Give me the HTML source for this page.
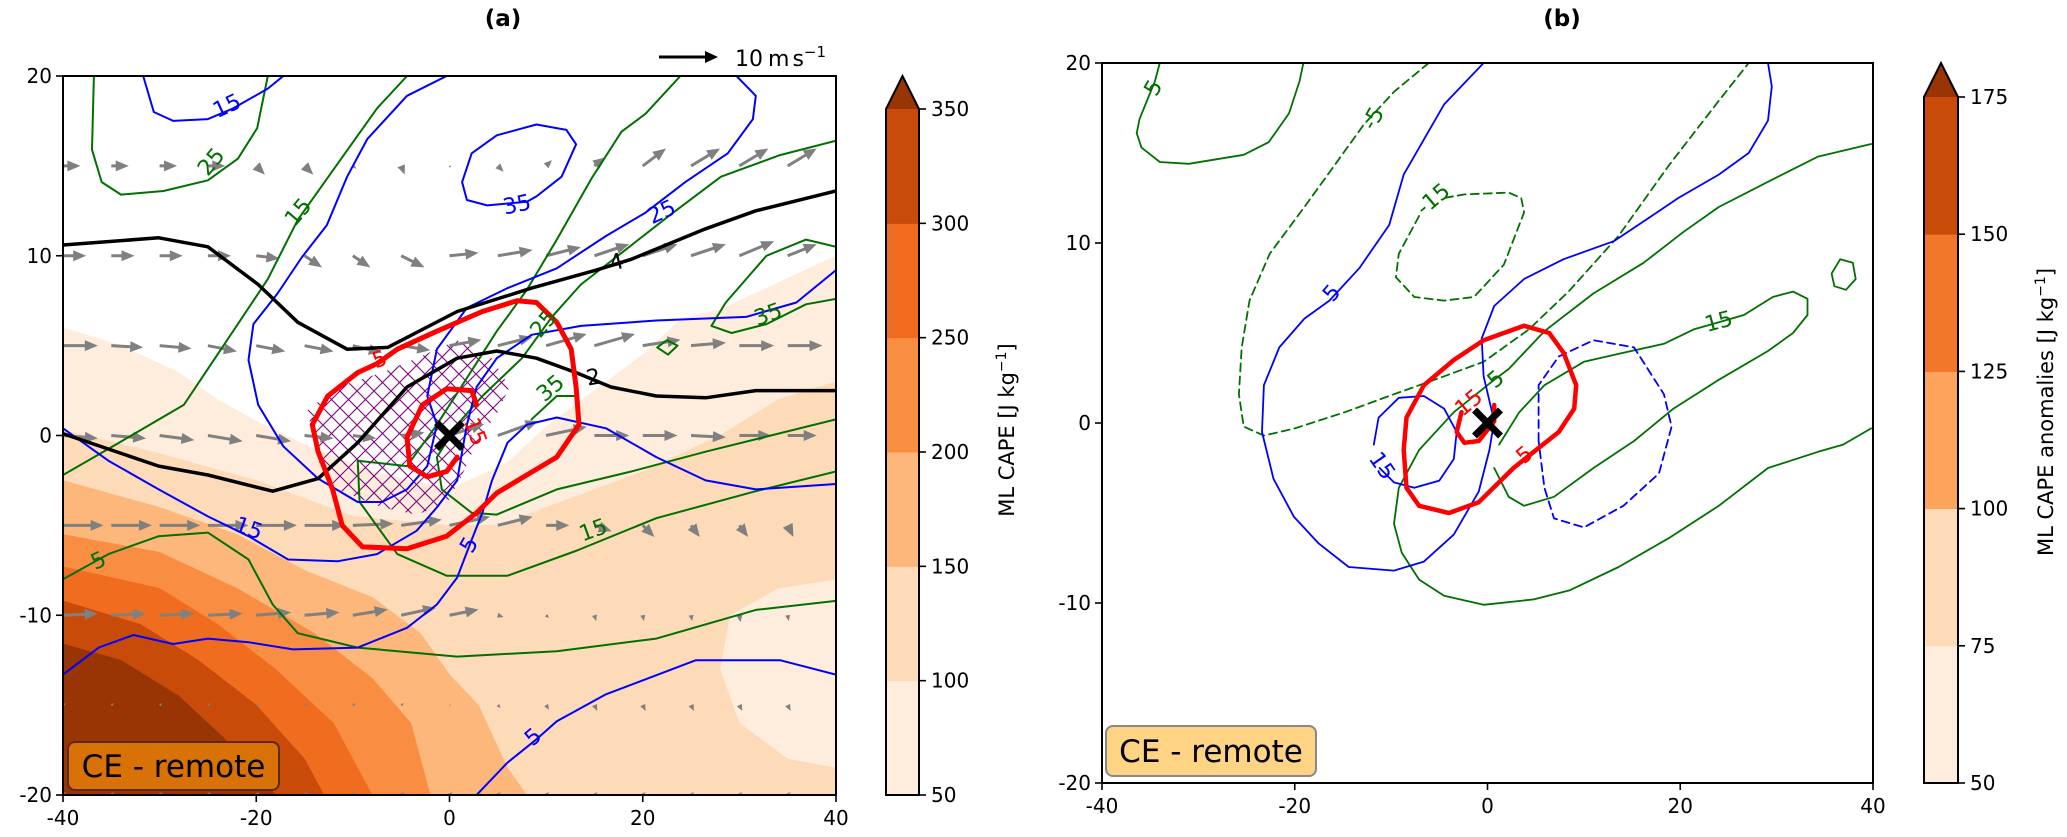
<!DOCTYPE html>
<html><head><meta charset="utf-8">
<style>
html,body{margin:0;padding:0;background:#fff;}
svg{display:block;}
text{font-family:"DejaVu Sans","Liberation Sans",sans-serif;}
</style></head>
<body>
<svg id="fig" width="2067" height="837" viewBox="0 0 2067 837" xmlns="http://www.w3.org/2000/svg">
<defs>
<pattern id="hatch" patternUnits="userSpaceOnUse" width="17" height="17">
<path d="M0,0 L17,17 M17,0 L0,17 M-4,13 L4,21 M13,-4 L21,4 M-4,4 L4,-4 M13,21 L21,13" stroke="#800080" stroke-width="1.1" fill="none"/>
</pattern>
<clipPath id="clipA"><rect x="63" y="76" width="773" height="719"/></clipPath>
<clipPath id="clipB"><rect x="1102" y="63" width="771" height="720"/></clipPath>
</defs>
<g id="panelA"></g>
<g id="panelB"></g>
</svg>
<script>
// ---------- data (panel a) ----------
const capeLevelsA = [50,100,150,200,250,300,350];
const capeColors = ["#feeddc","#fddbb9","#fdb77a","#f98e43","#f06d1f","#c84b0a","#993404"];
const fillA1 = [[-40,6],[-34,5],[-28,3.5],[-24,2],[-20,0.8],[-15,-0.5],[-8,-2],[0,-3],[6,-1.5],[10,0.5],[15,2.5],[20,4.5],[24,6.5],[28,7],[34,8.5],[40,10],[40,-20],[-40,-20]];
const fillA2 = [[-40,0.3],[-30,-1],[-20,-2.5],[-10,-4.5],[0,-5],[5,-5],[10,-4],[20,-2],[28,0],[34,2],[40,3],[40,-8],[34,-8.5],[29,-10],[28,-13],[30,-16],[35,-18],[40,-18.5],[40,-20],[-40,-20]];
const fillA3 = [[-40,-2.5],[-30,-4],[-22,-5.5],[-15,-7.5],[-8,-9],[-3,-11],[0,-13.3],[3,-15],[6,-18.5],[8,-20],[-40,-20]];
const fillA4 = [[-40,-5.5],[-30,-6.5],[-22,-8.5],[-14,-11],[-8,-13.5],[-4,-16],[-2,-20],[-40,-20]];
const fillA5 = [[-40,-7.3],[-30,-8.5],[-24,-10.5],[-18,-13],[-12,-16],[-8,-20],[-40,-20]];
const fillA6 = [[-40,-9.2],[-32,-10.5],[-26,-12.5],[-20,-15],[-15,-18],[-13,-20],[-40,-20]];
const fillA7 = [[-40,-11.6],[-34,-12.5],[-28,-14.5],[-23,-17],[-18,-20],[-40,-20]];

const greenA1 = [[-36.8,20],[-37,15.9],[-36,14.1],[-34,13.4],[-29.6,13.6],[-25,14.2],[-21.9,15.4],[-19.9,17.1],[-18.8,20]];
const greenA2 = [[-40,-2.2],[-34.2,-0.4],[-27.5,1.7],[-22.4,5.8],[-18.8,8.7],[-15.7,12],[-11.6,15.1],[-7.5,18.2],[-4.4,20]];
const greenA3 = [[-40,-8],[-35.3,-6.6],[-30.1,-5.6],[-25,-5.4],[-20.8,-6.9],[-18.3,-9.4],[-15.7,-11],[-9.5,-11.8],[0.8,-12.3],[11.1,-12],[21.4,-11.3],[31.7,-9.7],[40,-9.2]];
const greenA4 = [[23.9,20],[20.3,17.9],[17.8,16.9],[14.7,14.3],[11.1,10.9],[8,8.1],[4.9,5.8],[1.8,3.2],[-1.3,0.6],[-4.4,-1.7],[-9.5,-1.4],[-9.3,-3.7],[-5.4,-6.6],[-0.3,-7.8],[6,-7.8],[13.2,-6.4],[21.4,-4.6],[31.7,-3.1],[40,-2]];
const greenA5 = [[40,16.4],[34.2,15.6],[28.1,14.4],[22.9,12.3],[17.2,9.9],[13.6,8.4],[10.6,6.6],[7.5,4.3],[3.4,2.2],[0.8,0.6],[-1.3,-1.2],[-0.8,-3],[2.3,-4.3],[4.9,-4.4],[11.1,-3],[18.8,-2],[26.5,-0.9],[40,0.9]];
const greenA6 = [[40,10.5],[36.9,10.9],[32.8,10],[30.7,8.7],[28.6,7.4],[27.1,6.1],[29.2,5.7],[32.8,6.2],[36.9,7.3],[40,7.6]];
const greenA7 = [[21.5,4.9],[22.5,5.3],[23.6,5],[22.6,4.5],[21.5,4.9]];
const greenA8 = [[8.5,0.9],[11.1,2.2],[13.1,2.2]];
const blueA1 = [[-31.7,20],[-30.6,18],[-28.6,17.5],[-25,17.6],[-22.4,18.2],[-18.8,19.3],[-17.2,20]];
const blueA2 = [[-0.3,20],[-4.4,18.9],[-8.5,16.5],[-10.6,14.4],[-12.7,11.7],[-15.3,9.9],[-17.8,7.9],[-20.3,6.2],[-20.8,4.2],[-19.8,1.7],[-17.2,-0.6],[-13.6,-2.4],[-9.5,-3.7],[-7,-3.7],[-4.4,-3],[-2.3,-1.7],[-1.3,0.6],[-2.3,2.2],[-1.3,4.8],[1.8,7.1],[6,8.2],[11.1,9.3],[16.2,11.1],[20.3,12.4],[24.4,14.1],[28.8,15.7],[31.4,17.6],[31.7,18.9],[29.7,20]];
const blueA3 = [[13.1,16.2],[12.1,17],[9,17.3],[4.9,16.7],[2.3,15.7],[1.3,14.1],[1.8,13.1],[3.9,12.8],[8,13],[9,13.3],[11.6,14.4],[13.1,16.2]];
const blueA4 = [[40,9.2],[35.9,7.4],[30.7,6.6],[21.4,6.4],[13.6,6.1],[8.5,5.6],[4.9,4.3],[2.8,2.7],[1.8,0.6],[1.3,-0.9],[0.8,-2.5],[-1.3,-4],[-3.4,-5.3],[-7.5,-6.6],[-11.6,-7],[-16.7,-6.9],[-20.8,-5.6],[-25,-4.5],[-30.1,-3],[-35.3,-1.4],[-40,0.4]];
const blueA5 = [[40,-2.7],[31.7,-3],[26.5,-2.5],[21.4,-1.2],[16.2,0.4],[11.1,1],[8,0.6],[6,-0.4],[4.4,-2.5],[3.4,-4.3],[2.3,-5.8],[0.8,-7.9],[-1.3,-9.4],[-4.4,-10.7],[-9.5,-11.8],[-16.2,-11.9],[-20.8,-11.5],[-25,-11.3],[-28.6,-11.6],[-32.7,-11.1],[-36.3,-11.8],[-40,-13.3]];
const blueA6 = [[40,-13.3],[34.2,-12.5],[25.5,-12.5],[16.2,-14.4],[11.1,-15.9],[9,-16.9],[6,-18.2],[2.8,-20]];
const blackA4 = [[-40,10.6],[-30.1,11],[-25,10.5],[-19.8,8.4],[-15.7,6.3],[-10.6,4.8],[-6.4,4.9],[0.8,6.9],[8.5,8.2],[15.2,9.2],[18.8,9.8],[26.5,11.5],[31.7,12.5],[40,13.6]];
const blackA2 = [[-40,0.1],[-30.1,-1.7],[-25,-2.2],[-18.3,-3.1],[-13.6,-2.4],[-9.5,-0.4],[-4.4,2.7],[0.8,4.3],[4.9,4.7],[9,4.3],[13.1,3.5],[16.7,2.7],[21.4,2.2],[26.5,2.1],[31.7,2.5],[40,2.5]];
const redA5 = [[-5.4,4.8],[-1.3,5.8],[3.4,6.9],[7,7.5],[9,7.4],[11.1,6.3],[12.6,4.8],[13.1,2.7],[13.4,0.6],[11.1,-1.2],[8,-2.2],[4.9,-3.2],[2.8,-4.3],[-0.3,-5.6],[-4.4,-6.3],[-9,-6.2],[-11.1,-5],[-12.1,-3],[-13.6,-0.9],[-14.2,0.6],[-12.6,2.2],[-9.5,3.5],[-7.5,4],[-5.4,4.8]];
const redA15 = [[2.8,1.7],[2.3,2.5],[-0.3,2.6],[-2.8,1.7],[-4.4,-0.1],[-4.1,-1.7],[-2.3,-2.3],[-0.3,-2],[0.8,-1.2]];
const hatchA = [[-14.7,1.4],[-11.6,2.7],[-7,3.5],[-3.4,4.3],[0.8,5.3],[4.4,4.3],[6.2,2.7],[4.9,1.2],[2.8,-0.4],[1.3,-2.2],[-0.3,-3.8],[-3.4,-4.4],[-7,-4],[-11.6,-3],[-13.6,-1.4]];
const labelsA = [
 [-23,18.3,"15",-25,"#0000ff"],[-24.6,15.2,"25",-50,"#007000"],[-15.6,12.4,"15",-50,"#007000"],
 [7,12.8,"35",-12,"#0000ff"],[22,12.4,"25",-25,"#0000ff"],[17.3,9.6,"4",-15,"#000"],
 [14.9,3.2,"2",-10,"#000"],[-7.2,4.2,"5",-20,"#ff0000"],[2.6,0.2,"15",70,"#ff0000"],
 [9.8,6.2,"25",-50,"#007000"],[10.5,2.6,"35",-40,"#007000"],[33,6.7,"35",-20,"#007000"],
 [-20.8,-5.2,"15",20,"#0000ff"],[14.9,-5.3,"15",-20,"#007000"],[-36.3,-7,"5",-25,"#007000"],
 [2.1,-6.1,"5",-60,"#0000ff"],[8.7,-16.8,"5",-40,"#0000ff"]];
const windRowsY = [15,10,5,0,-5,-10,-15,-20];
const windColsX = [-40,-35,-30,-25,-20,-15,-10,-5,0,5,10,15,20,25,30,35];
const windU = [
 [3,3,3,3,1.5,1.5,0.6,0.6,0.3,1,1,2,4,5,5,5],
 [4,4,4,4,4,3,3,4,5,6,6,6,6,6,6,5],
 [6,5.5,5.5,5,5,5,5,5,5.5,6,7,7,6.5,6,6,6],
 [6,6,6,6,6,5,4,4,6,7,7,6,6,6,5.5,5],
 [7,7,7,7,7,7,7,7,7,6,4,3,2,1.5,1.5,1],
 [6,6,6,6,6,6,6,6,5,1,0.5,0.3,0.2,0.2,0.2,0.2],
 [0.5,0.5,0.5,0.5,0.5,0.5,0.5,0.5,0.3,0.5,0.5,0.5,0.5,0.5,0.5,0.5],
 [0.5,0.5,0.5,0.5,0.5,0.5,0.5,0.5,0.5,0.5,0.5,0.5,0.5,0.5,0.5,0.5]];
const windV = [
 [0,0,0,0,-1.5,-1.5,-0.5,-1.5,-0.3,-1,1,1.5,3,3,3,3],
 [0,0,0,0,-0.5,-2,-2,-2,0.5,1,1.5,2,2,2,2.5,2],
 [0,-0.3,-0.5,-1,-1,-1,-1.2,-0.8,1,1.5,2,2,1,0.5,0,0],
 [-0.5,-0.5,-0.8,-1,-1,-0.5,-0.5,0.5,2,2.5,1.5,0,0,-0.3,0,0],
 [0,0,0,0,0,0,0.3,1,1.5,1.5,0,-1,-2,-2,-2,-2],
 [0.3,0.3,0.3,0.3,0.5,0.5,1,1.3,1,-0.3,-0.5,-1,-1,-1,-1.2,-1],
 [0.3,0.3,0.3,0.3,0.3,0.3,0.3,0.3,0,-0.5,-0.8,-1,-1,-1,-1,-1],
 [0.5,0.5,0.5,0.5,0.5,0.5,0.5,0.5,0.5,0.5,0.5,0.5,0.5,0.5,0.5,0.5]];
const xTicks = [-40,-20,0,20,40];
const yTicks = [20,10,0,-10,-20];

// ---------- data (panel b) ----------
const capeLevelsB = [50,75,100,125,150,175];
const capeColorsB = ["#feeddc","#fddbb9","#fda35c","#f3772a","#c84b0a","#993404"];
const greenB1 = [[-34,20],[-34.5,19],[-36.1,16.9],[-36.4,16.1],[-35.9,15.3],[-34,14.5],[-31,14.4],[-25.3,14.9],[-22.7,15.6],[-20.6,17.2],[-19.5,19],[-19.1,20]];
const greenBd1 = [[-6.1,20],[-9.7,18.4],[-12.8,16.6],[-15.9,14.3],[-19,12],[-22.6,9.4],[-24.7,6.8],[-25.5,4.2],[-25.8,1.6],[-25.3,-0.2],[-23.2,-0.7],[-20,-0.3],[-14.8,0.6],[-9.7,1.6],[-5.5,2.4],[-0.4,3.4],[4.3,5.2],[8.4,7.3],[13.6,10.4],[18.8,14.3],[24,17.9],[27.1,20]];
const greenBd2 = [[-7.1,11.5],[-9.2,9.4],[-9.5,8.1],[-7.6,7],[-4.5,6.8],[-1.4,7],[1.7,8.8],[3.8,11.7],[3.5,12.5],[2.2,12.8],[-2.4,12.7],[-4.5,12.5]];
const greenB2 = [[39.8,15.5],[34.3,14.8],[29.1,13.4],[24,12],[20.3,10.6],[16.2,8.9],[11,7.2],[5.9,5.1],[2.2,3],[0.7,2.4],[-3.5,0.6],[-7.1,-1.5],[-9.2,-3.6],[-9.7,-5.6],[-8.9,-7.2],[-7.1,-8.7],[-4.5,-9.6],[-0.4,-10.1],[4.8,-9.8],[8.5,-9.3],[13.6,-8],[18.8,-6.4],[24,-4.6],[29.1,-2.5],[34.3,-1.6],[36.9,-1.2],[39.8,-0.3]];
const greenB3 = [[0.7,-2.5],[2.2,-4.1],[3.8,-4.6],[6.9,-4.1],[11,-2.5],[15.2,-1],[19.3,0.8],[24,2.4],[29.1,4],[31.7,5],[33.2,6],[33.2,6.9],[31.7,7.3],[29.6,7],[26.6,6],[24,5.6],[21.4,5.2],[18.3,4.4],[14.1,3.9],[10,3.4],[5.9,2.1],[3.3,0.6],[1.2,-1.2]];
const greenB4 = [[35.7,8.3],[36.6,9.1],[37.9,8.9],[38.2,8],[37.2,7.4],[36,7.6],[35.7,8.3]];
const blueB1 = [[-0.4,20],[-4.5,17.7],[-8.7,13.8],[-10.2,11],[-13.3,8.6],[-16.4,6.8],[-19,5.8],[-21.6,4.2],[-23.2,2.1],[-23.4,-0.5],[-22.2,-3.1],[-20.1,-5.2],[-17.5,-6.7],[-14.4,-8],[-9.7,-8.2],[-6.6,-7.7],[-3.5,-6.2],[-0.9,-3.8],[0.2,-1.5],[0.7,0.1],[-0.4,2.6],[-0.6,4.7],[0.7,6.5],[3.8,8],[7.9,9.1],[13.1,10.1],[16.2,11.2],[19.8,12.5],[24,13.8],[27.1,15],[29.1,16.8],[29.5,18.7],[29.1,20]];
const blueB2 = [[-11.8,-1.2],[-11.3,0.3],[-9.2,1.4],[-6.6,1.5],[-4.5,0.8],[-3.2,-0.5],[-3.5,-2],[-5,-3.2],[-7.6,-3.6],[-9.7,-3.3],[-11.2,-2.5]];
const blueBd = [[5.3,-1],[5.3,2.1],[7.4,3.7],[11,4.6],[15.2,4.2],[18.3,1.6],[19.1,-0.2],[17.8,-2.8],[14.1,-4.6],[10,-5.8],[6.9,-5.3],[5.9,-3.6],[5.3,-1]];
const redB5 = [[3.8,5.4],[6.4,5],[7.9,3.9],[9.2,2.1],[9,0.8],[7.4,-0.5],[4.8,-1.6],[2.7,-2.5],[-0.9,-4.4],[-4,-5],[-7.1,-4.6],[-8.4,-3.6],[-8.7,-1.5],[-8.4,0.3],[-6.6,2.1],[-3.5,3.5],[-0.4,4.6],[3.8,5.4]];
const redB15 = [[-2.7,0.6],[-3.2,-0.5],[-2.4,-1.1],[-0.9,-1],[0.7,0.1],[0.7,1]];
const labelsB = [
 [-34.6,18.6,"5",-60,"#007000"],[-11.8,16.9,"-5",-60,"#007000"],[-5.6,12.4,"-15",-40,"#007000"],
 [-16.1,7.2,"5",-50,"#0000ff"],[-11,-2.4,"15",55,"#0000ff"],[0.9,2.4,"5",-40,"#007000"],
 [-1.9,1.1,"15",-40,"#ff0000"],[3.9,-1.8,"5",-40,"#ff0000"],[24,5.6,"15",-15,"#007000"]];

// ---------- helpers ----------
const NS = "http://www.w3.org/2000/svg";
function el(tag, attrs, parent){ const e=document.createElementNS(NS,tag); for(const k in attrs) e.setAttribute(k,attrs[k]); parent.appendChild(e); return e; }
const ax = x => 63 + (x+40)/80*773;
const ay = y => 76 + (20-y)/40*719;
const bx = x => 1102 + (x+40)/80*771;
const by = y => 63 + (20-y)/40*720;
function pts(arr, fx, fy){ return arr.map(p => fx(p[0]).toFixed(1)+","+fy(p[1]).toFixed(1)).join(" "); }

const gA = document.getElementById("panelA");
const gB = document.getElementById("panelB");
const plotA = el("g",{"clip-path":"url(#clipA)"},gA);


const plotB = el("g",{"clip-path":"url(#clipB)"},gB);



const fillsA = [fillA1,fillA2,fillA3,fillA4,fillA5,fillA6,fillA7];
fillsA.forEach((f,i)=>{
  const p = el("polygon",{points:pts(f,ax,ay),fill:capeColors[i],stroke:capeColors[i],"stroke-width":0.5},plotA);
  
  
});
const h = el("polygon",{points:pts(hatchA,ax,ay),fill:"url(#hatch)"},plotA);



function line(parent, arr, fx, fy, color, w, name, dash){
  const a = {points:pts(arr,fx,fy),fill:"none",stroke:color,"stroke-width":w,"stroke-linejoin":"round","stroke-linecap":"round"};
  if(dash) a["stroke-dasharray"]=dash;
  const l = el("polyline",a,parent);
  
  
}
windRowsY.forEach((yy,r)=>{
  windColsX.forEach((xx,c)=>{
    const u=windU[r][c], v=windV[r][c];
    const sp=Math.hypot(u,v); if(sp<0.05) return;
    const L=sp*5.8, ang=Math.atan2(-v,u);
    const hl=Math.min(13,L), hw=5.5*hl/13, sw=1.5;
    const x0=ax(xx), y0=ay(yy);
    const local=[[0,-sw],[L-hl,-sw],[L-hl,-hw],[L,0],[L-hl,hw],[L-hl,sw],[0,sw]];
    const ca=Math.cos(ang), sa=Math.sin(ang);
    const P=local.map(p=>(x0+p[0]*ca-p[1]*sa).toFixed(1)+","+(y0+p[0]*sa+p[1]*ca).toFixed(1)).join(" ");
    const a=el("polygon",{points:P,fill:"#808080"},plotA);
    
    
  });
});
[greenA1,greenA2,greenA3,greenA4,greenA5,greenA6,greenA7,greenA8].forEach(g=>line(plotA,g,ax,ay,"#007000",2,"green-contour"));
[blueA1,blueA2,blueA3,blueA4,blueA5,blueA6].forEach(g=>line(plotA,g,ax,ay,"#0000ff",2,"blue-contour"));
line(plotA,blackA4,ax,ay,"#000",3.5,"black-contour-4");
line(plotA,blackA2,ax,ay,"#000",3.5,"black-contour-2");
line(plotA,redA5,ax,ay,"#ff0000",5,"red-contour-5");
line(plotA,redA15,ax,ay,"#ff0000",5,"red-contour-15");

function labels(parent, arr, fx, fy){
  arr.forEach(l=>{
    const t=el("text",{x:fx(l[0]),y:fy(l[1]),fill:l[4],"font-size":22,"text-anchor":"middle","dominant-baseline":"central",transform:`rotate(${l[3]} ${fx(l[0])} ${fy(l[1])})`},parent);
    t.textContent=l[2];
    
    
  });
}
labels(plotA,labelsA,ax,ay);

function xmark(parent,fx,fy){
  const cx=fx(0), cy=fy(0), s=13;
  const m=el("path",{d:`M${cx-s},${cy-s}L${cx+s},${cy+s}M${cx+s},${cy-s}L${cx-s},${cy+s}`,stroke:"#000","stroke-width":7},parent);
  
  
}
xmark(plotA,ax,ay);

line(plotB,greenB1,bx,by,"#007000",1.8,"green-contour");
line(plotB,greenBd1,bx,by,"#007000",1.8,"green-dashed-contour","8,5");
line(plotB,greenBd2,bx,by,"#007000",1.8,"green-dashed-contour","8,5");
line(plotB,greenB2,bx,by,"#007000",1.8,"green-contour");
line(plotB,greenB3,bx,by,"#007000",1.8,"green-contour");
line(plotB,greenB4,bx,by,"#007000",1.8,"green-contour");
line(plotB,blueB1,bx,by,"#0000ff",1.8,"blue-contour");
line(plotB,blueB2,bx,by,"#0000ff",1.8,"blue-contour");
line(plotB,blueBd,bx,by,"#0000ff",1.8,"blue-dashed-contour","8,5");
line(plotB,redB5,bx,by,"#ff0000",4.5,"red-contour-5");
line(plotB,redB15,bx,by,"#ff0000",4.5,"red-contour-15");
labels(plotB,labelsB,bx,by);
xmark(plotB,bx,by);

function box(parent,x,y,w,hh,fill,stroke,name){
  const g=el("g",{},parent);
  
  
  el("rect",{x:x,y:y,width:w,height:hh,rx:7,fill:fill,stroke:stroke,"stroke-width":2},g);
  const t=el("text",{x:x+w/2,y:y+hh/2+1,"font-size":31,"text-anchor":"middle","dominant-baseline":"central",fill:"#000"},g);
  t.textContent="CE - remote";
}
box(gA,68,742,211,48,"#d87106","#5a2a06","label-box-a");
box(gB,1106,726,210,50,"#fed384","#888","label-box-b");

function axes(parent,x0,y0,w,hgt,fx,fy,name){
  const fr=el("rect",{x:x0,y:y0,width:w,height:hgt,fill:"none",stroke:"#000","stroke-width":2},parent);
  
  
  xTicks.forEach(v=>{
    el("line",{x1:fx(v),x2:fx(v),y1:y0+hgt,y2:y0+hgt+7,stroke:"#000","stroke-width":1.6},parent);
    const t=el("text",{x:fx(v),y:y0+hgt+30,"font-size":20,"text-anchor":"middle"},parent);
    t.textContent=String(v);
    
    
  });
  yTicks.forEach(v=>{
    el("line",{x1:x0-7,x2:x0,y1:fy(v),y2:fy(v),stroke:"#000","stroke-width":1.6},parent);
    const t=el("text",{x:x0-11,y:fy(v)+7,"font-size":20,"text-anchor":"end"},parent);
    t.textContent=String(v);
    
    
  });
}
axes(gA,63,76,773,719,ax,ay,"axes-a");
axes(gB,1102,63,771,720,bx,by,"axes-b");

function colorbar(parent,x,w,top,bottom,tip,levels,colors,label,labelY,name){
  const n=levels.length-1, seg=(bottom-top)/n;
  const g=el("g",{},parent);
  
  
  for(let i=0;i<n;i++){
    el("rect",{x:x,y:bottom-(i+1)*seg,width:w,height:seg+0.5,fill:colors[i]},g);
  }
  el("polygon",{points:`${x},${top} ${x+w/2},${tip} ${x+w},${top}`,fill:colors[colors.length-1]},g);
  el("polygon",{points:`${x},${bottom} ${x},${top} ${x+w/2},${tip} ${x+w},${top} ${x+w},${bottom}`,fill:"none",stroke:"#000","stroke-width":2},g);
  levels.forEach((v,i)=>{
    const yy=bottom-i*seg;
    el("line",{x1:x+w,x2:x+w+7,y1:yy,y2:yy,stroke:"#000","stroke-width":1.6},g);
    const t=el("text",{x:x+w+12,y:yy+7,"font-size":20},g);
    t.textContent=String(v);
    
    
  });
  const lx=x+w+95;
  const t=el("text",{x:lx,y:labelY,"font-size":21,"text-anchor":"middle","font-family":"Liberation Sans Narrow, Liberation Sans, sans-serif",transform:`rotate(-90 ${lx} ${labelY})`},g);
  t.innerHTML=label;
  
  
}
colorbar(gA,886,33,109,795,76,capeLevelsA,capeColors,'ML CAPE [J kg<tspan dy="-8" font-size="14">−1</tspan><tspan dy="8">]</tspan>',430,"colorbar-a");
colorbar(gB,1924,34,97,783,63,capeLevelsB,capeColorsB,'ML CAPE anomalies [J kg<tspan dy="-8" font-size="14">−1</tspan><tspan dy="8">]</tspan>',412,"colorbar-b");

const ta=el("text",{x:503,y:26,"font-size":23,"font-weight":"bold","text-anchor":"middle"},gA);
ta.textContent="(a)";


const tb=el("text",{x:1562,y:26,"font-size":23,"font-weight":"bold","text-anchor":"middle"},gB);
tb.textContent="(b)";



const keyG=el("g",{},gA);


el("polygon",{points:"659,55.5 705,55.5 705,51 718,57 705,63 705,58.5 659,58.5",fill:"#000"},keyG);
const kt=el("text",{x:735,y:66,"font-size":22},keyG);
kt.innerHTML='10<tspan dx="5">m</tspan><tspan dx="3">s</tspan><tspan dy="-9" font-size="15">−1</tspan>';
</script>
</body></html>
